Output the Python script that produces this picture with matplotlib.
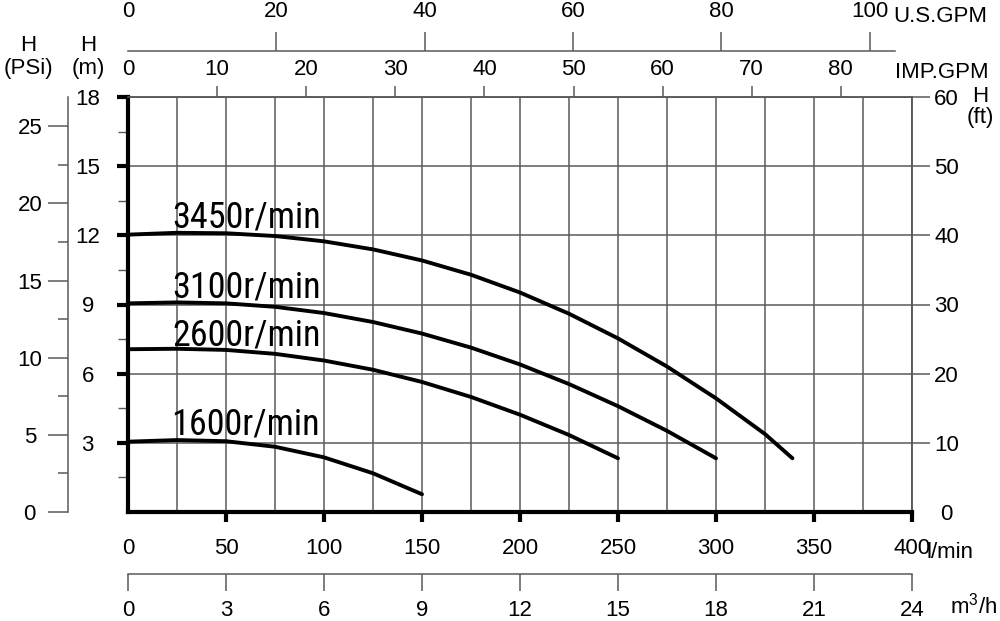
import matplotlib
matplotlib.use("Agg")
import matplotlib.pyplot as plt
from matplotlib import font_manager as fm
from matplotlib.ticker import MultipleLocator, FixedLocator

plt.rcParams['font.family'] = ['Liberation Sans', 'DejaVu Sans']
plt.rcParams['mathtext.fontset'] = 'custom'
plt.rcParams['mathtext.rm'] = 'Liberation Sans'
plt.rcParams['mathtext.it'] = 'Liberation Sans'

# pump curves: flow (l/min) vs head (m)
q_3450 = [0, 25, 50, 75, 100, 125, 150, 175, 200, 225, 250, 275, 300, 325, 339]
h_3450 = [12.03, 12.11, 12.09, 11.97, 11.74, 11.39, 10.91, 10.29, 9.52, 8.60, 7.53, 6.31, 4.93, 3.38, 2.33]
q_3100 = [0, 25, 50, 75, 100, 125, 150, 175, 200, 225, 250, 275, 300]
h_3100 = [9.05, 9.09, 9.05, 8.90, 8.63, 8.24, 7.74, 7.13, 6.40, 5.55, 4.59, 3.52, 2.33]
q_2600 = [0, 25, 50, 75, 100, 125, 150, 175, 200, 225, 250]
h_2600 = [7.06, 7.08, 7.03, 6.86, 6.57, 6.17, 5.64, 4.99, 4.22, 3.34, 2.33]
q_1600 = [0, 25, 50, 75, 100, 125, 150]
h_1600 = [3.05, 3.12, 3.07, 2.83, 2.37, 1.68, 0.77]
speed_labels = ["3450r/min", "3100r/min", "2600r/min", "1600r/min"]

lpm_ticks = [0, 50, 100, 150, 200, 250, 300, 350, 400]
m_ticks = [3, 6, 9, 12, 15, 18]
psi_ticks = [0, 5, 10, 15, 20, 25]
ft_ticks = [0, 10, 20, 30, 40, 50, 60]
imp_ticks = [0, 10, 20, 30, 40, 50, 60, 70, 80]
us_ticks = [0, 20, 40, 60, 80, 100]
m3h_ticks = [0, 3, 6, 9, 12, 15, 18, 21, 24]

GRAY = '#5a5a5a'
FS = 16

# a narrow face for the speed labels, if one is installed
narrow_family, narrow_stretch = 'Liberation Sans', 'normal'
wanted = ['Liberation Sans Narrow', 'Roboto Condensed', 'DejaVu Sans Condensed',
          'Open Sans Condensed', 'Noto Sans Condensed']
names = {f.name for f in fm.fontManager.ttflist}
for w in wanted:
    if w in names:
        narrow_family = w
        break
else:
    for f in fm.fontManager.ttflist:
        if f.stretch in ('condensed', 'semi-condensed', 'extra-condensed', 'ultra-condensed') \
                or (isinstance(f.stretch, int) and f.stretch < 100):
            narrow_family, narrow_stretch = f.name, f.stretch
            break

W, H = 1000, 621
fig = plt.figure(figsize=(10, 6.21), dpi=100)
ax = fig.add_axes([128 / W, 1 - 512 / H, 784 / W, 415 / H])
ax.set_xlim(0, 400)
ax.set_ylim(0, 18)

# curves
curves = [(q_3450, h_3450), (q_3100, h_3100), (q_2600, h_2600), (q_1600, h_1600)]
label_pos = [(22.5, 12.36), (22.5, 9.32), (22.5, 7.24), (22.0, 3.34)]
for (q, h), lab, (lx, ly) in zip(curves, speed_labels, label_pos):
    ax.plot(q, h, color='black', lw=2.8, solid_capstyle='round',
            solid_joinstyle='round', zorder=3)
    ax.text(lx, ly, lab, fontsize=26, va='baseline', ha='left',
            family=narrow_family, stretch=narrow_stretch)

# grid
ax.xaxis.set_major_locator(FixedLocator(lpm_ticks))
ax.xaxis.set_minor_locator(MultipleLocator(25))
ax.yaxis.set_major_locator(FixedLocator(m_ticks))
ax.yaxis.set_minor_locator(FixedLocator([1.5, 4.5, 7.5, 10.5, 13.5, 16.5]))
ax.grid(axis='x', which='both', color=GRAY, lw=1.1)
ax.grid(axis='y', which='major', color=GRAY, lw=1.1)
ax.set_axisbelow(True)

# spines
for s in ['left', 'bottom']:
    ax.spines[s].set_linewidth(3)
    ax.spines[s].set_color('black')
for s in ['top', 'right']:
    ax.spines[s].set_linewidth(1.1)
    ax.spines[s].set_color(GRAY)

ax.tick_params(axis='x', which='major', direction='out', length=7, width=3,
               color='black', labelsize=FS, pad=12)
ax.tick_params(axis='x', which='minor', length=0)
ax.tick_params(axis='y', which='major', direction='out', length=8, width=3,
               color='black', labelsize=FS, pad=21)
ax.tick_params(axis='y', which='minor', direction='out', length=7, width=1,
               color=GRAY)
plt.setp(ax.get_yticklabels(), ha='center')
ax.xaxis.get_major_ticks()[0].tick1line.set_visible(False)

# PSI axis (left, outside)
psi_per_m = 26.9 / 18
ax_psi = ax.secondary_yaxis(-60 / 784, functions=(lambda m: m * psi_per_m,
                                                   lambda p: p / psi_per_m))
ax_psi.yaxis.set_major_locator(FixedLocator(psi_ticks))
ax_psi.yaxis.set_minor_locator(FixedLocator([2.5, 7.5, 12.5, 17.5, 22.5]))
ax_psi.spines['left'].set_color(GRAY)
ax_psi.spines['left'].set_linewidth(1.1)
ax_psi.tick_params(axis='y', which='major', direction='out', length=14.5,
                   width=1.1, color=GRAY, labelsize=FS, pad=13)
ax_psi.tick_params(axis='y', which='minor', direction='out', length=7,
                   width=1.1, color=GRAY)
plt.setp(ax_psi.get_yticklabels(), ha='center')

# ft axis (right)
ax_ft = ax.secondary_yaxis('right', functions=(lambda m: m * 60 / 18,
                                               lambda f: f * 18 / 60))
ax_ft.yaxis.set_major_locator(FixedLocator(ft_ticks))
ax_ft.spines['right'].set_color(GRAY)
ax_ft.spines['right'].set_linewidth(1.1)
ax_ft.tick_params(axis='y', direction='out', length=13, width=1.1,
                  color=GRAY, labelsize=FS, pad=12)
plt.setp(ax_ft.get_yticklabels(), ha='center')
ax_ft.yaxis.get_major_ticks()[0].tick2line.set_visible(False)

# IMP.GPM axis (top)
ax_imp = ax.secondary_xaxis('top', functions=(lambda q: q / 4.546,
                                              lambda g: g * 4.546))
ax_imp.xaxis.set_major_locator(FixedLocator(imp_ticks))
ax_imp.spines['top'].set_color(GRAY)
ax_imp.spines['top'].set_linewidth(1.1)
ax_imp.tick_params(axis='x', direction='out', length=8, width=1.1,
                   color=GRAY, labelsize=FS, pad=4)
ax_imp.xaxis.get_major_ticks()[0].tick2line.set_visible(False)

# U.S.GPM axis (top, outside)
ax_us = ax.secondary_xaxis(1 + 46 / 415, functions=(lambda q: q / 3.785,
                                                    lambda g: g * 3.785))
ax_us.xaxis.set_major_locator(FixedLocator(us_ticks))
ax_us.spines['top'].set_color(GRAY)
ax_us.spines['top'].set_linewidth(1.1)
ax_us.spines['top'].set_bounds(0, 103.4)
ax_us.tick_params(axis='x', direction='out', length=14, width=1.1,
                  color=GRAY, labelsize=FS, pad=7)
ax_us.xaxis.get_major_ticks()[0].tick2line.set_visible(False)

# m3/h axis (bottom, outside)
ax_m3 = ax.secondary_xaxis(-62 / 415, functions=(lambda q: q * 0.06,
                                                 lambda v: v / 0.06))
ax_m3.xaxis.set_major_locator(FixedLocator(m3h_ticks))
ax_m3.spines['bottom'].set_color(GRAY)
ax_m3.spines['bottom'].set_linewidth(1.1)
ax_m3.tick_params(axis='x', direction='out', length=12, width=1.1,
                  color=GRAY, labelsize=FS, pad=7)

# unit labels
def ftext(x, y, s, **kw):
    fig.text(x / W, 1 - y / H, s, fontsize=FS, **kw)

ftext(28, 57, "H\n(PSi)", ha='center', va='center', linespacing=1.1)
ftext(88, 57, "H\n(m)", ha='center', va='center', linespacing=1.1)
ftext(980, 107, "H\n(ft)", ha='center', va='center', linespacing=1.05)
ftext(895, 73, "IMP.GPM", ha='left', va='center')
ftext(893, 17, "U.S.GPM", ha='left', va='center')
ftext(927, 552, "l/min", ha='left', va='center')
ftext(950, 606, r"m$^{3}$/h", ha='left', va='center')

fig.savefig("out.png", dpi=100)
